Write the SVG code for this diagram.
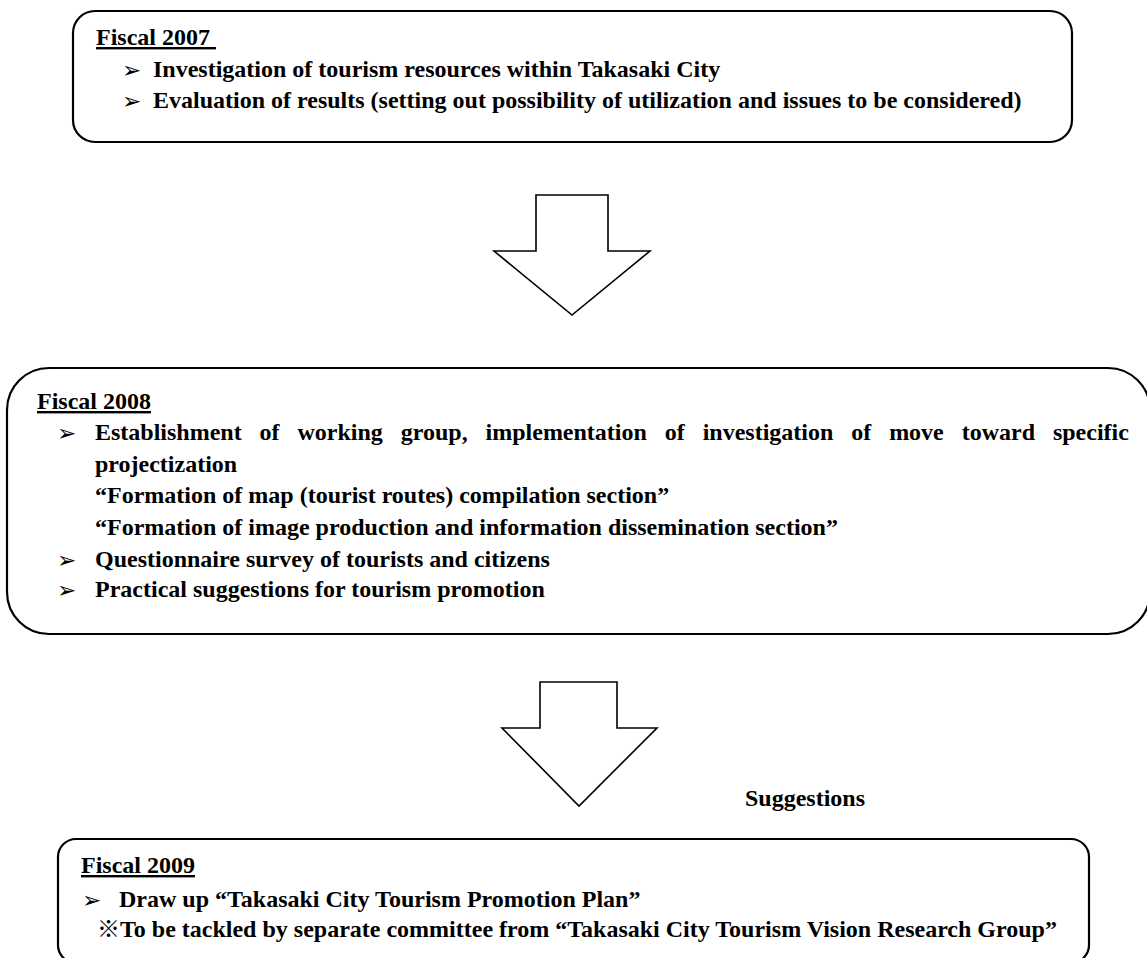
<svg xmlns="http://www.w3.org/2000/svg" width="1147" height="958" viewBox="0 0 1147 958">
<style>
.box{fill:#fff;stroke:#000;stroke-width:2.2}
.arrow{fill:#fff;stroke:#000;stroke-width:1.6;stroke-linejoin:miter}
.t{font-family:"Liberation Serif","Times New Roman",serif;font-weight:bold;font-size:24px;fill:#000}
.h{text-decoration:underline}
.b{font-family:"DejaVu Sans",sans-serif;font-size:23px;fill:#000}
.k{font-family:"Noto Sans CJK JP","Liberation Serif",serif;font-weight:bold;font-size:23px}
</style>
<rect width="1147" height="958" fill="#fff"/>
<g id="connectors">
<polygon class="arrow" points="536,195 608,195 608,251 650,251 572,315 494,251 536,251"/>
<polygon class="arrow" points="540,682 617,682 617,728 657,728 579,806 502,728 540,728"/>
<text class="t" x="745" y="806">Suggestions</text>
</g>
<g id="fiscal2007">
<rect class="box" x="73" y="11" width="999" height="131" rx="22" ry="22"/>
<text class="t h" x="96" y="45">Fiscal 2007&#160;</text>
<text class="b" x="122" y="78">➢</text>
<text class="t" x="153" y="77">Investigation of tourism resources within Takasaki City</text>
<text class="b" x="122" y="109">➢</text>
<text class="t" x="153" y="108">Evaluation of results (setting out possibility of utilization and issues to be considered)</text>
</g>
<g id="fiscal2008">
<rect class="box" x="7" y="368" width="1143" height="266" rx="42" ry="42"/>
<text class="t h" x="37" y="409">Fiscal 2008</text>
<text class="b" x="57" y="441">➢</text>
<text class="t" x="95" y="440" word-spacing="11.9">Establishment of working group, implementation of investigation of move toward specific</text>
<text class="t" x="95" y="472">projectization</text>
<text class="t" x="95" y="503">“Formation of map (tourist routes) compilation section”</text>
<text class="t" x="95" y="535">“Formation of image production and information dissemination section”</text>
<text class="b" x="57" y="568">➢</text>
<text class="t" x="95" y="567">Questionnaire survey of tourists and citizens</text>
<text class="b" x="57" y="598">➢</text>
<text class="t" x="95" y="597">Practical suggestions for tourism promotion</text>
</g>
<g id="fiscal2009">
<rect class="box" x="58" y="839" width="1031" height="124" rx="18" ry="18"/>
<text class="t h" x="81" y="873">Fiscal 2009</text>
<text class="b" x="82" y="908">➢</text>
<text class="t" x="119" y="907">Draw up “Takasaki City Tourism Promotion Plan”</text>
<text class="t" x="97" y="937"><tspan class="k">※</tspan>To be tackled by separate committee from “Takasaki City Tourism Vision Research Group”</text>
</g>
</svg>
